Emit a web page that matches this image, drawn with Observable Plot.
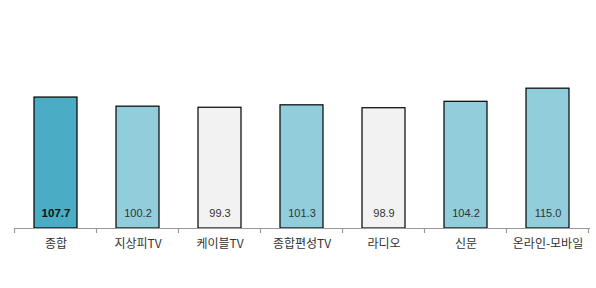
<!DOCTYPE html>
<html>
<head>
<meta charset="utf-8">
<script src="https://cdn.jsdelivr.net/npm/d3@7"></script>
<script src="https://cdn.jsdelivr.net/npm/@observablehq/plot@0.6"></script>
<style>
  html, body { margin: 0; padding: 0; background: #fff; }
  #chart svg { display: block; }
</style>
</head>
<body>
<div id="chart"></div>
<script>
const categories = ["종합", "지상피TV", "케이블TV", "종합편성TV", "라디오", "신문", "온라인-모바일"];
const values = [107.7, 100.2, 99.3, 101.3, 98.9, 104.2, 115.0];
const fills = ["#4BACC6", "#92CDDC", "#F2F2F2", "#92CDDC", "#F2F2F2", "#92CDDC", "#92CDDC"];
const labels = ["107.7", "100.2", "99.3", "101.3", "98.9", "104.2", "115.0"];

const data = categories.map((c, i) => ({cat: c, value: values[i], fill: fills[i], label: labels[i], bold: i === 0}));

const font = "'Liberation Sans', 'Noto Sans CJK KR', sans-serif";

const plot = Plot.plot({
  width: 596,
  height: 288,
  marginLeft: 14,
  marginRight: 6,
  marginTop: 45.6,
  marginBottom: 60,
  style: {fontFamily: font, background: "#fff"},
  x: {domain: categories, paddingInner: 0.47, paddingOuter: 0.235, label: null},
  y: {domain: [0, 150], axis: null},
  marks: [
    Plot.barY(data, {x: "cat", y: "value", fill: "fill", stroke: "#000", strokeWidth: 1.2}),
    Plot.ruleY([0], {stroke: "#999", strokeWidth: 1.2}),
    Plot.text(data.filter(d => d.bold), {x: "cat", y: 0, text: "label", dy: -15, fontSize: 11.5, fontWeight: "bold", fill: "#111"}),
    Plot.text(data.filter(d => !d.bold), {x: "cat", y: 0, text: "label", dy: -15, fontSize: 11, fill: "#333"}),
    Plot.axisX({tickSize: 0, tickPadding: 11, fontSize: 12, fill: "#333", label: null, fontFamily: "'Noto Sans CJK KR', sans-serif"})
  ]
});

document.getElementById("chart").appendChild(plot);

// boundary ticks between categories, positioned with the plot's own x scale
const xs = plot.scale("x");
const ys = plot.scale("y");
const step = xs.step;
const y0 = ys.apply(0);
const bounds = categories.map(c => xs.apply(c) - (step - xs.bandwidth) / 2);
bounds.push(bounds[bounds.length - 1] + step);
d3.select(plot).append("g")
  .selectAll("line").data(bounds).join("line")
  .attr("x1", d => d).attr("x2", d => d)
  .attr("y1", y0).attr("y2", y0 + 5)
  .attr("stroke", "#999").attr("stroke-width", 1.2);
</script>
</body>
</html>
